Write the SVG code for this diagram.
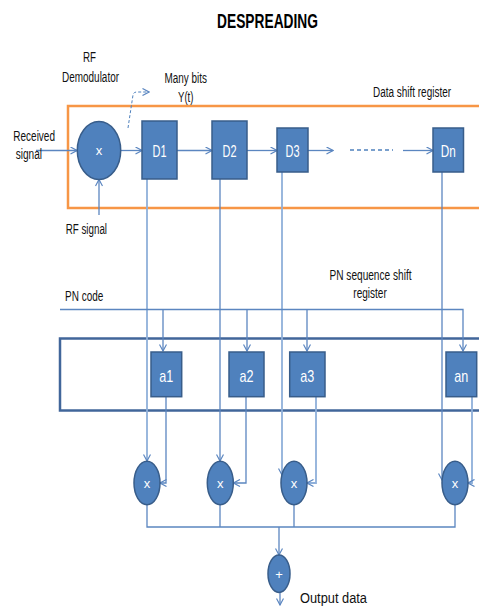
<svg xmlns="http://www.w3.org/2000/svg" width="479" height="606" viewBox="0 0 479 606">
  <style>
    .lbl { font-family: "Liberation Sans", Arial, sans-serif; font-size: 14px; fill: #111; }
    .title { font-family: "Liberation Sans", Arial, sans-serif; font-size: 21px; font-weight: bold; fill: #000; }
    .box { fill: #4f81bd; stroke: #385d8a; stroke-width: 1.5; }
    .boxtxt { font-family: "Liberation Sans", Arial, sans-serif; font-size: 17px; fill: #fff; text-anchor: middle; }
    .optxt { font-family: "Liberation Sans", Arial, sans-serif; font-size: 13px; fill: #fff; text-anchor: middle; }
    .wire { fill: none; stroke: #5b86c0; stroke-width: 1.3; }
    .wire-lt { fill: none; stroke: #8fb0da; stroke-width: 1.8; }
    .arr { marker-end: url(#chev); }
  </style>
  <defs>
    <marker id="chev" viewBox="0 0 8 8" refX="7.5" refY="4" markerWidth="8" markerHeight="8" markerUnits="userSpaceOnUse" orient="auto">
      <path d="M1,0.5 L7.5,4 L1,7.5" fill="none" stroke="#5b86c0" stroke-width="1.2"/>
    </marker>
  </defs>
  <rect width="479" height="606" fill="#fff"/>

  <!-- heading -->
  <text class="title" x="217" y="28.3" textLength="101" lengthAdjust="spacingAndGlyphs">DESPREADING</text>

  <!-- register frames -->
  <g id="data-register-frame">
    <rect x="68" y="106" width="420" height="102" fill="none" stroke="#f79646" stroke-width="2.5"/>
    <text class="lbl" x="373" y="96.5" textLength="78" lengthAdjust="spacingAndGlyphs">Data shift register</text>
  </g>
  <g id="pn-register-frame">
    <rect x="60" y="338.5" width="430" height="72" fill="none" stroke="#41669a" stroke-width="2.5"/>
    <text class="lbl" x="329.5" y="280" textLength="82" lengthAdjust="spacingAndGlyphs">PN sequence shift</text>
    <text class="lbl" x="353.3" y="298" textLength="33.5" lengthAdjust="spacingAndGlyphs">register</text>
  </g>

  <!-- connectors -->
  <g id="connectors">
    <!-- input chain -->
    <line class="wire arr" x1="36" y1="150.5" x2="77" y2="150.5"/>
    <line class="wire arr" x1="99" y1="215" x2="99" y2="179.5"/>
    <line class="wire arr" x1="121" y1="150.5" x2="142" y2="150.5"/>
    <line class="wire arr" x1="177" y1="150.5" x2="212" y2="150.5"/>
    <line class="wire arr" x1="247" y1="150.5" x2="277" y2="150.5"/>
    <line class="wire arr" x1="308" y1="150.5" x2="333" y2="150.5"/>
    <line x1="350" y1="150" x2="393" y2="150" stroke="#4f81bd" stroke-width="1.5" stroke-dasharray="4,3"/>
    <line class="wire arr" x1="403" y1="150.5" x2="433" y2="150.5"/>
    <path d="M128,128 L133,95 Q133.5,92 137,92 L149,92" fill="none" stroke="#4f81bd" stroke-width="1" stroke-dasharray="3,2" marker-end="url(#chev)"/>

    <!-- data taps to multipliers -->
    <line class="wire-lt arr" x1="147" y1="179" x2="147" y2="461"/>
    <line class="wire arr" x1="220" y1="179" x2="220" y2="461"/>
    <line class="wire-lt arr" x1="282" y1="172" x2="282" y2="475"/>
    <line class="wire arr" x1="442" y1="172" x2="442" y2="480"/>

    <!-- PN code distribution -->
    <polyline class="wire arr" points="60,309.5 463,309.5 463,351"/>
    <line class="wire arr" x1="163" y1="309.5" x2="163" y2="351"/>
    <line class="wire arr" x1="247" y1="309.5" x2="247" y2="351"/>
    <line class="wire arr" x1="307" y1="309.5" x2="307" y2="351"/>

    <!-- PN taps to multipliers -->
    <polyline class="wire arr" points="166,397 166,483 160,483"/>
    <polyline class="wire arr" points="246,397 246,483 233.5,483"/>
    <polyline class="wire-lt arr" points="316,397 316,483 307,483"/>
    <polyline class="wire-lt arr" points="472,397 472,483 468,483"/>

    <!-- summing bus -->
    <polyline class="wire" points="147,505 147,527 455,527 455,505"/>
    <line class="wire" x1="220" y1="505" x2="220" y2="527"/>
    <line class="wire" x1="294" y1="505" x2="294" y2="527"/>
    <line class="wire arr" x1="279" y1="527" x2="279" y2="555"/>
    <line class="wire arr" x1="280" y1="592.5" x2="280" y2="605"/>
  </g>

  <!-- input mixer -->
  <g id="rf-mixer">
    <ellipse class="box" cx="99" cy="150.5" rx="21.7" ry="29"/>
    <text class="optxt" x="99" y="155" font-size="14">x</text>
  </g>
  <g id="input-labels">
    <text class="lbl" x="13.3" y="141" textLength="41.7" lengthAdjust="spacingAndGlyphs">Received</text>
    <text class="lbl" x="15.7" y="158.8" textLength="26.3" lengthAdjust="spacingAndGlyphs">signal</text>
    <text class="lbl" x="65.7" y="233.5" textLength="41.3" lengthAdjust="spacingAndGlyphs">RF signal</text>
    <text class="lbl" x="83" y="61.7" textLength="13" lengthAdjust="spacingAndGlyphs">RF</text>
    <text class="lbl" x="62" y="82.3" textLength="57" lengthAdjust="spacingAndGlyphs">Demodulator</text>
    <text class="lbl" x="164.5" y="83.3" textLength="42.5" lengthAdjust="spacingAndGlyphs">Many bits</text>
    <text class="lbl" x="178" y="101.7" textLength="15.5" lengthAdjust="spacingAndGlyphs">Y(t)</text>
    <text class="lbl" x="65" y="300.7" textLength="38.3" lengthAdjust="spacingAndGlyphs">PN code</text>
  </g>

  <!-- data shift register cells -->
  <g id="D1"><rect class="box" x="142" y="121" width="35" height="58"/><text class="boxtxt" x="159.5" y="156.7" textLength="14" lengthAdjust="spacingAndGlyphs">D1</text></g>
  <g id="D2"><rect class="box" x="212" y="121" width="35" height="58"/><text class="boxtxt" x="229.5" y="156.7" textLength="14" lengthAdjust="spacingAndGlyphs">D2</text></g>
  <g id="D3"><rect class="box" x="277" y="128" width="31" height="44"/><text class="boxtxt" x="292.5" y="156.7" textLength="14" lengthAdjust="spacingAndGlyphs">D3</text></g>
  <g id="Dn"><rect class="box" x="433" y="128" width="30.5" height="44"/><text class="boxtxt" x="448.2" y="156.7" textLength="15" lengthAdjust="spacingAndGlyphs">Dn</text></g>

  <!-- PN sequence register cells -->
  <g id="a1"><rect class="box" x="151" y="352" width="30.7" height="44.7"/><text class="boxtxt" x="166.3" y="381.7" font-size="16" textLength="14" lengthAdjust="spacingAndGlyphs">a1</text></g>
  <g id="a2"><rect class="box" x="229" y="352" width="35" height="44.7"/><text class="boxtxt" x="246.5" y="381.7" font-size="16" textLength="14" lengthAdjust="spacingAndGlyphs">a2</text></g>
  <g id="a3"><rect class="box" x="289.7" y="352" width="35.3" height="44.7"/><text class="boxtxt" x="307.3" y="381.7" font-size="16" textLength="14" lengthAdjust="spacingAndGlyphs">a3</text></g>
  <g id="an"><rect class="box" x="446" y="352" width="30.7" height="44.7"/><text class="boxtxt" x="461.3" y="381.7" font-size="16" textLength="14" lengthAdjust="spacingAndGlyphs">an</text></g>

  <!-- multipliers -->
  <g id="mul1"><ellipse class="box" cx="147" cy="483" rx="13" ry="21.7"/><text class="optxt" x="147" y="488">x</text></g>
  <g id="mul2"><ellipse class="box" cx="220.3" cy="483" rx="13" ry="21.7"/><text class="optxt" x="220.3" y="488">x</text></g>
  <g id="mul3"><ellipse class="box" cx="294" cy="483" rx="13" ry="21.7"/><text class="optxt" x="294" y="488">x</text></g>
  <g id="muln"><ellipse class="box" cx="455" cy="483" rx="13" ry="21.7"/><text class="optxt" x="455" y="488">x</text></g>

  <!-- summer and output -->
  <g id="adder">
    <ellipse class="box" cx="279" cy="573.7" rx="11" ry="18.7"/>
    <text class="optxt" x="279" y="578.5" font-size="14">+</text>
  </g>
  <g id="output-label">
    <text class="lbl" x="300" y="602.5" font-size="19" textLength="67" lengthAdjust="spacingAndGlyphs">Output data</text>
  </g>
</svg>
